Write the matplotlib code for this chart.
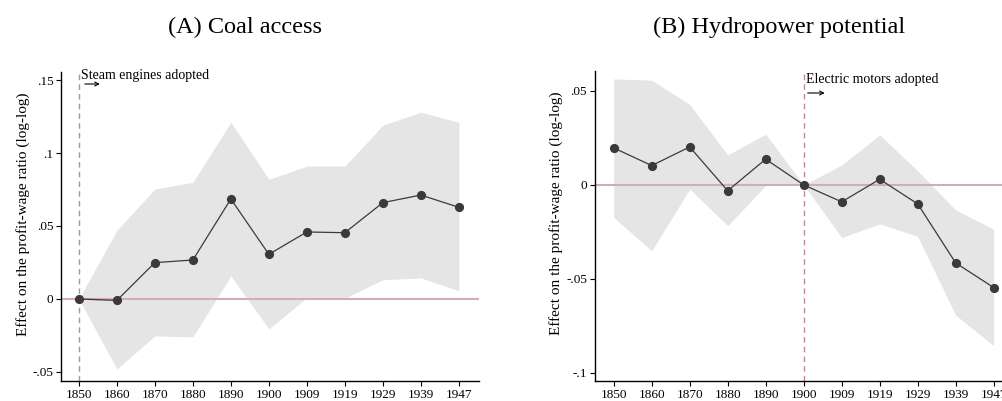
import numpy as np
import matplotlib
matplotlib.use("Agg")
import matplotlib.pyplot as plt
from matplotlib.ticker import FuncFormatter, FixedLocator
from matplotlib.transforms import offset_copy

years = ["1850", "1860", "1870", "1880", "1890", "1900", "1909", "1919", "1929", "1939", "1947"]

# Panel A: coal access (base year 1850)
coal_est = [0.0, -0.001, 0.0249, 0.0267, 0.0685, 0.0306, 0.0459, 0.0454, 0.066, 0.0712, 0.0628]
coal_hi = [0.0, 0.047, 0.0753, 0.080, 0.121, 0.082, 0.091, 0.091, 0.119, 0.128, 0.121]
coal_lo = [0.0, -0.048, -0.0253, -0.026, 0.0158, -0.0205, 0.0009, 0.0005, 0.0132, 0.0144, 0.0055]

# Panel B: hydropower potential (base year 1900)
hydro_est = [0.0197, 0.0103, 0.0202, -0.0031, 0.0137, 0.0, -0.009, 0.003, -0.0101, -0.0415, -0.0546]
hydro_hi = [0.0564, 0.0557, 0.0428, 0.016, 0.027, 0.0, 0.0106, 0.0266, 0.0075, -0.0133, -0.0236]
hydro_lo = [-0.0173, -0.035, -0.0022, -0.0217, -0.0003, 0.0, -0.028, -0.0207, -0.0274, -0.0693, -0.0855]

coal_yticks = [-0.05, 0.0, 0.05, 0.1, 0.15]
hydro_yticks = [-0.1, -0.05, 0.0, 0.05]

plt.rcParams["font.family"] = ["Liberation Serif", "DejaVu Serif"]

W, H = 1002, 401
fig = plt.figure(figsize=(W / 100, H / 100), dpi=100)


def px_axes(x0, x1, ytop, ybot):
    return fig.add_axes([x0 / W, 1 - ybot / H, (x1 - x0) / W, (ybot - ytop) / H])


def stata_fmt(v, _):
    if abs(v) < 1e-12:
        return "0"
    s = f"{v:g}"
    return s.replace("0.", ".")


SHADE = "#e5e5e5"
LINE = "#3a3a3a"
ZERO = "#d4adb2"
VLINE = "#c08a92"


def panel(ax, est, lo, hi, yticks, ylim, xlim, base_idx, note, title, title_x,
          text_drop, arrow_drop, arrow_x0, arrow_x1):
    x = np.arange(len(years))
    ax.fill_between(x, lo, hi, color=SHADE, linewidth=0, zorder=1)
    ax.axhline(0, color=ZERO, lw=1.5, zorder=2)
    ax.axvline(base_idx, color=VLINE, lw=1.0, ls=(0, (4, 3)), zorder=2.5)
    ax.plot(x, est, color=LINE, lw=0.9, marker="o", ms=5.6,
            markerfacecolor=LINE, markeredgecolor=LINE, zorder=3)
    ax.set_xlim(*xlim)
    ax.set_ylim(*ylim)
    ax.xaxis.set_major_locator(FixedLocator(x))
    ax.set_xticklabels(years)
    ax.yaxis.set_major_locator(FixedLocator(yticks))
    ax.yaxis.set_major_formatter(FuncFormatter(stata_fmt))
    for s in ("top", "right"):
        ax.spines[s].set_visible(False)
    for s in ("left", "bottom"):
        ax.spines[s].set_linewidth(1.0)
    ax.tick_params(axis="both", length=3.5, width=0.8, labelsize=9.5, pad=2, color="black")
    ax.set_ylabel("Effect on the profit-wage ratio (log-log)", fontsize=11)
    ax.yaxis.set_label_coords(-0.075, 0.54)

    # note text just right of the dashed line, near the top of the plot
    tr_text = offset_copy(ax.transData, fig=fig, x=2.5, y=-text_drop, units="dots")
    ax.text(base_idx, ylim[1], note, transform=tr_text,
            ha="left", va="baseline", fontsize=10)

    # small rightward arrow under the note
    y_top = ylim[1]
    tr0 = offset_copy(ax.transData, fig=fig, x=arrow_x0, y=-arrow_drop, units="dots")
    tr1 = offset_copy(ax.transData, fig=fig, x=arrow_x1, y=-arrow_drop, units="dots")
    ax.annotate("", xy=(base_idx, y_top), xycoords=tr1,
                xytext=(base_idx, y_top), textcoords=tr0,
                arrowprops=dict(arrowstyle="->", color="black", lw=0.8,
                                shrinkA=0, shrinkB=0, mutation_scale=7))
    fig.text(title_x / W, 1 - 27 / H, title, ha="center", va="center", fontsize=17.5)


axA = px_axes(61, 479, 72, 381)
panel(axA, coal_est, coal_lo, coal_hi, coal_yticks, (-0.0562, 0.1555), (-0.47, 10.53),
      0, "Steam engines adopted", "(A) Coal access", 245,
      text_drop=7, arrow_drop=12, arrow_x0=6, arrow_x1=21)

axB = px_axes(594.7, 1012.7, 71, 381)
panel(axB, hydro_est, hydro_lo, hydro_hi, hydro_yticks, (-0.1043, 0.0606), (-0.5, 10.5),
      5, "Electric motors adopted", "(B) Hydropower potential", 779,
      text_drop=12, arrow_drop=22, arrow_x0=4, arrow_x1=21)

fig.savefig("out.png", dpi=100)
